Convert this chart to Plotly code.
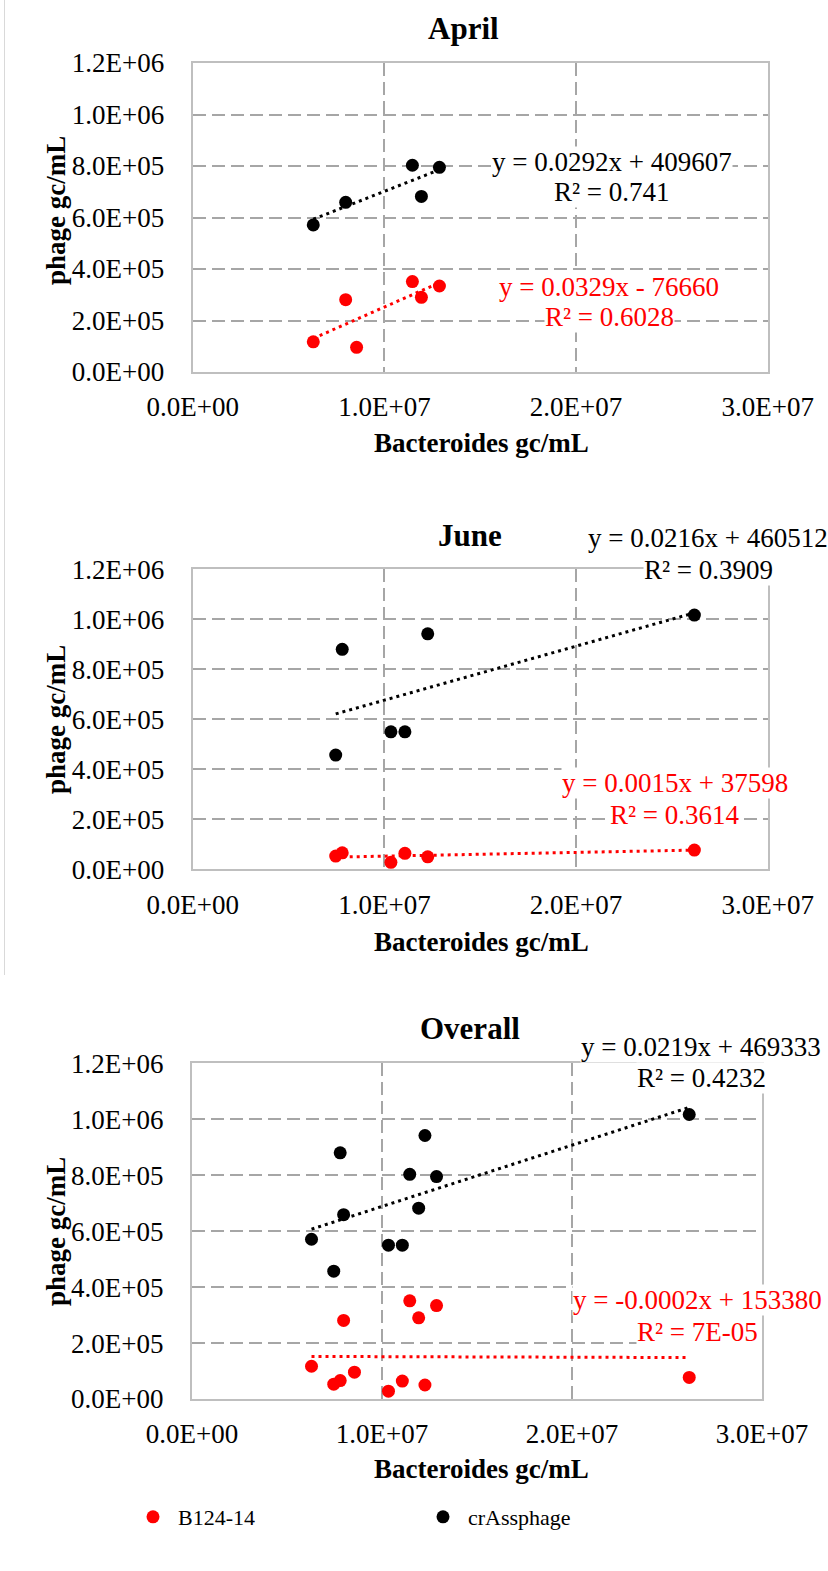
import plotly.graph_objects as go

# ---------------- data ----------------
panel_titles = ["April", "June", "Overall"]
series_names = ["B124-14", "crAssphage"]

april_bact_b124 = [6.29e6, 7.98e6, 8.55e6, 11.46e6, 11.93e6, 12.87e6]
april_b124 = [1.17e5, 2.81e5, 0.96e5, 3.51e5, 2.90e5, 3.34e5]
april_bact_crass = [6.29e6, 7.98e6, 11.46e6, 11.93e6, 12.87e6]
april_crass = [5.71e5, 6.59e5, 8.03e5, 6.82e5, 7.95e5]

june_bact = [7.46e6, 7.80e6, 10.34e6, 11.07e6, 12.26e6, 26.17e6]
june_b124 = [5.3e4, 6.6e4, 2.8e4, 6.4e4, 5.0e4, 7.7e4]
june_crass = [4.57e5, 8.80e5, 5.50e5, 5.50e5, 9.42e5, 10.17e5]

# trendline coefficients (slope, intercept) per panel
b124_slope = [0.0329, 0.0015, -0.0002]
b124_intercept = [-76660, 37598, 153380]
crass_slope = [0.0292, 0.0216, 0.0219]
crass_intercept = [409607, 460512, 469333]

b124_eq = ["y = 0.0329x - 76660", "y = 0.0015x + 37598", "y = -0.0002x + 153380"]
b124_r2 = ["R² = 0.6028", "R² = 0.3614", "R² = 7E-05"]
crass_eq = ["y = 0.0292x + 409607", "y = 0.0216x + 460512", "y = 0.0219x + 469333"]
crass_r2 = ["R² = 0.741", "R² = 0.3909", "R² = 0.4232"]

x_tickvals = [0, 1e7, 2e7, 3e7]
x_ticktext = ["0.0E+00", "1.0E+07", "2.0E+07", "3.0E+07"]
y_tickvals = [0, 2e5, 4e5, 6e5, 8e5, 1e6, 1.2e6]
y_ticktext = ["0.0E+00", "2.0E+05", "4.0E+05", "6.0E+05", "8.0E+05", "1.0E+06", "1.2E+06"]

x_title = "Bacteroides gc/mL"
y_title = "phage gc/mL"

# ---------------- layout helpers ----------------
W, H = 828, 1571
FONT = "Liberation Serif, Times New Roman, serif"
RED = "#FF0000"
BLACK = "#000000"


def fx(px):
    return px / W


def fy(py):
    return 1 - py / H


# plot-area pixel boxes: (left, right, top, bottom)
boxes = [(192.7, 767.8, 63.0, 372.0),
         (192.7, 767.8, 569.3, 869.3),
         (192.0, 762.0, 1063.3, 1399.0)]

overall_bact_b124 = april_bact_b124 + june_bact
overall_b124 = april_b124 + june_b124
overall_bact_crass = april_bact_crass + june_bact
overall_crass = april_crass + june_crass

panels = [
    (april_bact_b124, april_b124, april_bact_crass, april_crass),
    (june_bact, june_b124, june_bact, june_crass),
    (overall_bact_b124, overall_b124, overall_bact_crass, overall_crass),
]

fig = go.Figure()

for i, (xb, yb, xc, yc) in enumerate(panels):
    xa = "x" if i == 0 else f"x{i+1}"
    ya = "y" if i == 0 else f"y{i+1}"
    # trendlines
    xr = [min(xb), max(xb)]
    fig.add_trace(go.Scatter(x=xr, y=[b124_slope[i] * v + b124_intercept[i] for v in xr],
                             mode="lines", line=dict(color=RED, width=3, dash="3px,4px"),
                             xaxis=xa, yaxis=ya, showlegend=False, hoverinfo="skip"))
    xr2 = [min(xc), max(xc)]
    fig.add_trace(go.Scatter(x=xr2, y=[crass_slope[i] * v + crass_intercept[i] for v in xr2],
                             mode="lines", line=dict(color=BLACK, width=3, dash="3px,4px"),
                             xaxis=xa, yaxis=ya, showlegend=False, hoverinfo="skip"))
    # points
    fig.add_trace(go.Scatter(x=xb, y=yb, mode="markers", name=series_names[0],
                             marker=dict(color=RED, size=13),
                             xaxis=xa, yaxis=ya, showlegend=(i == 2), legend="legend"))
    fig.add_trace(go.Scatter(x=xc, y=yc, mode="markers", name=series_names[1],
                             marker=dict(color=BLACK, size=13),
                             xaxis=xa, yaxis=ya, showlegend=(i == 2), legend="legend2"))

layout = dict(
    template="none",
    width=W, height=H, autosize=False,
    margin=dict(l=0, r=0, t=0, b=0, pad=0, autoexpand=False),
    paper_bgcolor="white", plot_bgcolor="white",
    font=dict(family=FONT, size=27, color="black"),
    legend=dict(x=fx(128), y=fy(1517), xanchor="left", yanchor="middle", itemwidth=40,
                font=dict(family=FONT, size=22), bgcolor="rgba(0,0,0,0)", borderwidth=0),
    legend2=dict(x=fx(418), y=fy(1517), xanchor="left", yanchor="middle", itemwidth=40,
                 font=dict(family=FONT, size=22), bgcolor="rgba(0,0,0,0)", borderwidth=0),
)

for i, (l, r, t, b) in enumerate(boxes):
    xk = "xaxis" if i == 0 else f"xaxis{i+1}"
    yk = "yaxis" if i == 0 else f"yaxis{i+1}"
    ya = "y" if i == 0 else f"y{i+1}"
    xa = "x" if i == 0 else f"x{i+1}"
    layout[xk] = dict(domain=[fx(l), fx(r)], anchor=ya, range=[0, 3e7], automargin=False,
                      tickvals=x_tickvals, ticktext=x_ticktext,
                      showline=True, mirror=True, linecolor="#BFBFBF", linewidth=2,
                      showgrid=True, gridcolor="#A6A6A6", gridwidth=2, griddash="13px,6px",
                      zeroline=False, ticks="outside", ticklen=10, tickcolor="rgba(0,0,0,0)",
                      tickfont=dict(family=FONT, size=27))
    layout[yk] = dict(domain=[fy(b), fy(t)], anchor=xa, range=[0, 1.2e6], automargin=False,
                      tickvals=y_tickvals, ticktext=y_ticktext,
                      showline=True, mirror=True, linecolor="#BFBFBF", linewidth=2,
                      showgrid=True, gridcolor="#A6A6A6", gridwidth=2, griddash="13px,6px",
                      zeroline=False, ticks="outside", ticklen=21, tickcolor="rgba(0,0,0,0)",
                      tickfont=dict(family=FONT, size=27))

fig.update_layout(**layout)

ann = []


def add_text(text, cx, cy, size=27, color="black", bold=False, angle=0, bg=None):
    d = dict(text=f"<b>{text}</b>" if bold else text, x=fx(cx), y=fy(cy),
             xref="paper", yref="paper", xanchor="center", yanchor="middle",
             showarrow=False, textangle=angle,
             font=dict(family=FONT, size=size, color=color), borderpad=0)
    if bg:
        d["bgcolor"] = bg
    ann.append(d)


# panel titles and axis titles
title_pos = [(463, 28), (470, 535), (470, 1028)]
xtitle_y = [443, 942, 1469]
ytitle_y = [210, 719, 1231]
for i in range(3):
    add_text(panel_titles[i], title_pos[i][0], title_pos[i][1], size=31, bold=True)
    add_text(x_title, 481, xtitle_y[i], size=27, bold=True)
    add_text(y_title, 56, ytitle_y[i], size=27, bold=True, angle=-90)

# equation labels (second line first so first line's box is on top)
crass_pos = [(612, 162, 192), (708, 538, 570), (701, 1047, 1078)]
b124_pos = [(609, 287, 317), (675, 783, 815), (697, 1300, 1332)]
for i in range(3):
    cx, y1, y2 = crass_pos[i]
    add_text(crass_r2[i], cx, y2, color=BLACK, bg="white")
    add_text(crass_eq[i], cx, y1, color=BLACK, bg="white")
    cx, y1, y2 = b124_pos[i]
    add_text(b124_r2[i], cx, y2, color=RED, bg="white")
    add_text(b124_eq[i], cx, y1, color=RED, bg="white")

fig.update_layout(annotations=ann)

# thin frame line at left edge of the upper image part
fig.add_shape(type="line", xref="paper", yref="paper",
              x0=fx(4.5), x1=fx(4.5), y0=fy(0), y1=fy(975),
              line=dict(color="#D9D9D9", width=1))

fig.write_html("out.html", config={"displayModeBar": False},
               post_script="document.body.style.margin='0';")
